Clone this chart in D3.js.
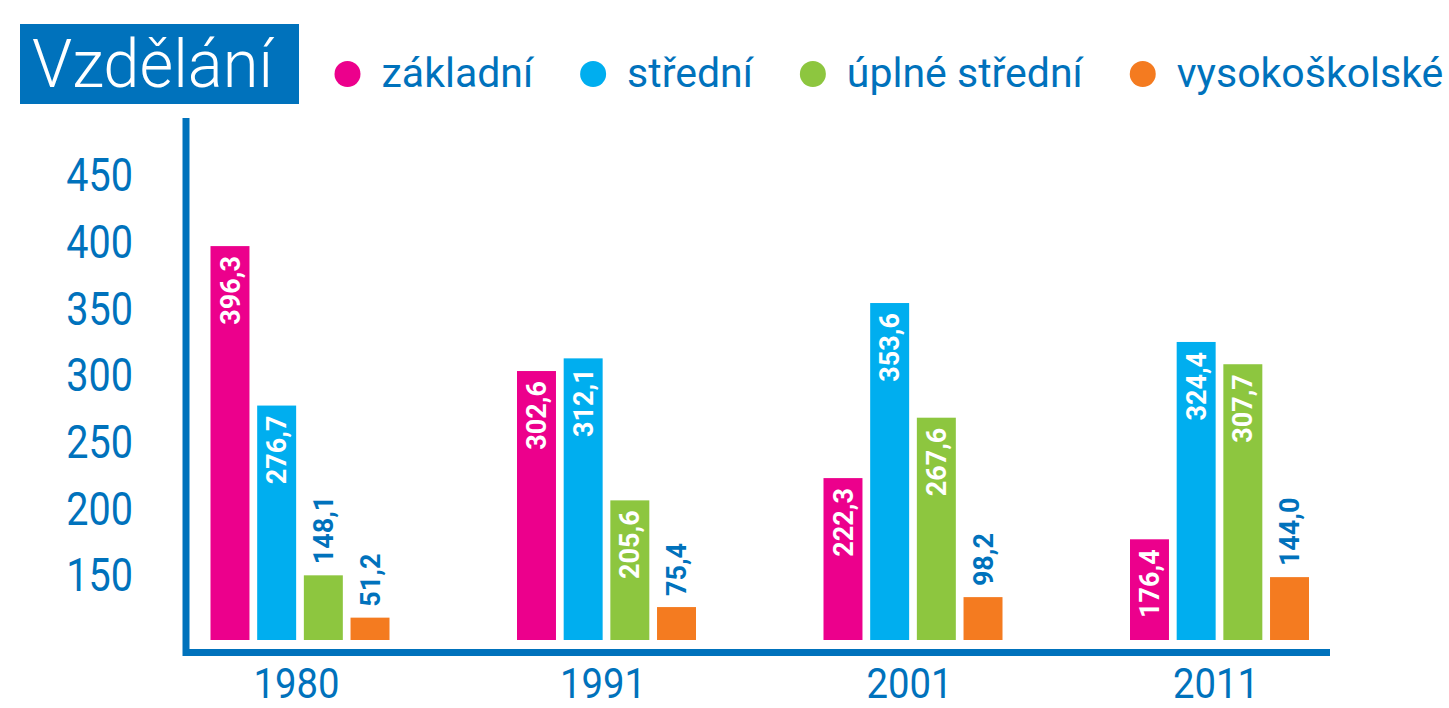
<!DOCTYPE html>
<html>
<head>
<meta charset="utf-8">
<script src="https://cdn.jsdelivr.net/npm/d3@7"></script>
<style>
  html, body { margin: 0; padding: 0; background: #fff; }
  svg { display: block; font-family: Roboto, "Noto Sans", sans-serif; }
</style>
</head>
<body>
<svg id="chart" width="1449" height="708"></svg>
<script>
// data
const years = ['1980', '1991', '2001', '2011'];
const categories = ['základní', 'střední', 'úplné střední', 'vysokoškolské'];
const zakladni = [396.3, 302.6, 222.3, 176.4];
const stredni = [276.7, 312.1, 353.6, 324.4];
const uplneStredni = [148.1, 205.6, 267.6, 307.7];
const vysokoskolske = [51.2, 75.4, 98.2, 144.0];
const yTicks = [150, 200, 250, 300, 350, 400, 450];
const colors = ['#EC008C', '#00AEEF', '#8DC63F', '#F47B20'];

const series = [zakladni, stredni, uplneStredni, vysokoskolske];
const blue = '#0072BC';

const cz = d3.formatLocale({ decimal: ',', thousands: ' ', grouping: [3], currency: ['', ''] });
const fmt = cz.format('.1f');

const svg = d3.select('#chart');

// squeeze text a bit to mimic the narrow DIN-like face
function squeeze(sel, k) {
  sel.each(function () {
    const w = this.getComputedTextLength();
    d3.select(this).attr('textLength', w * k).attr('lengthAdjust', 'spacingAndGlyphs');
  });
}

// scales (the original chart is not linear below 150)
const y = d3.scaleLinear().domain([0, 150, 450]).range([640, 574.5, 174.5]);
const x0 = d3.scalePoint().domain(years).range([300, 1219.5]);
const x1 = d3.scaleBand().domain(categories).range([-89.5, 89.5]).paddingInner(0.165);

// title
svg.append('rect')
  .attr('x', 20).attr('y', 24).attr('width', 279).attr('height', 80)
  .attr('fill', blue);
svg.append('text')
  .attr('x', 32).attr('y', 86.5)
  .attr('fill', '#fff')
  .attr('font-size', 66).attr('font-weight', 300)
  .attr('textLength', 241).attr('lengthAdjust', 'spacingAndGlyphs')
  .text('Vzdělání');

// legend
let lx = 347.5;
categories.forEach((c, i) => {
  svg.append('circle').attr('cx', lx).attr('cy', 74).attr('r', 13).attr('fill', colors[i]);
  const t = svg.append('text')
    .attr('x', lx + 34).attr('y', 86.5)
    .attr('fill', blue).attr('font-size', 41)
    .text(c);
  lx = lx + 34 + t.node().getComputedTextLength() + 60;
});

// y axis labels
const yAxis = svg.append('g')
  .attr('transform', 'translate(186,0)')
  .call(d3.axisLeft(y).tickValues(yTicks).tickSize(0).tickPadding(53).tickFormat(d3.format('d')));
yAxis.select('.domain').remove();
yAxis.selectAll('text')
  .attr('dy', '0.355em')
  .attr('fill', blue)
  .attr('font-size', 46)
  .attr('font-family', 'Roboto, sans-serif')
  .call(squeeze, 0.86);

// x axis labels
const xAxis = svg.append('g')
  .attr('transform', 'translate(-4,656)')
  .call(d3.axisBottom(x0).tickSize(0).tickPadding(0));
xAxis.select('.domain').remove();
xAxis.selectAll('text')
  .attr('dy', 0).attr('y', 42)
  .attr('fill', blue)
  .attr('font-size', 43)
  .attr('font-family', 'Roboto, sans-serif')
  .call(squeeze, 0.89);

// bars
const groups = svg.append('g').selectAll('g')
  .data(years)
  .join('g')
  .attr('transform', d => `translate(${x0(d)},0)`);

const bars = groups.selectAll('g')
  .data((d, j) => categories.map((c, i) => ({ cat: c, i, value: series[i][j] })))
  .join('g');

bars.append('rect')
  .attr('x', d => x1(d.cat))
  .attr('y', d => y(d.value))
  .attr('width', x1.bandwidth())
  .attr('height', d => y(0) - y(d.value))
  .attr('fill', d => colors[d.i]);

bars.append('text')
  .attr('font-size', 27)
  .attr('font-weight', 700)
  .attr('dy', '0.355em')
  .text(d => fmt(d.value))
  .each(function (d) {
    const t = d3.select(this);
    const len = this.getComputedTextLength();
    const cx = x1(d.cat) + x1.bandwidth() / 2;
    const top = y(d.value);
    const inside = (y(0) - top) > len + 22;
    t.attr('transform', `translate(${cx},${inside ? top + 10 : top - 11}) rotate(-90)`)
      .attr('text-anchor', inside ? 'end' : 'start')
      .attr('fill', inside ? '#fff' : blue);
  });

// axis lines
svg.append('path')
  .attr('d', 'M186,118V652.5H1330')
  .attr('fill', 'none')
  .attr('stroke', blue)
  .attr('stroke-width', 7);
</script>
</body>
</html>
